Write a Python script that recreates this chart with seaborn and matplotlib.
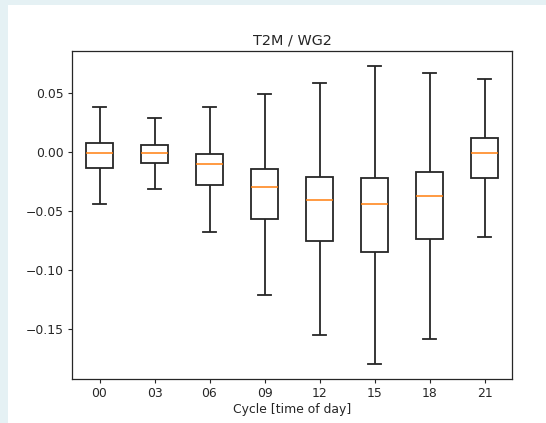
import pandas as pd
import numpy as np
import seaborn as sns
import matplotlib.pyplot as plt
from matplotlib.patches import Rectangle

# five-number summaries
cycles = ["00", "03", "06", "09", "12", "15", "18", "21"]
whisker_low = [-0.0443, -0.0316, -0.0675, -0.1205, -0.1545, -0.1793, -0.1582, -0.0721]
q1 = [-0.0135, -0.0091, -0.0279, -0.0569, -0.0749, -0.0844, -0.0738, -0.0217]
median = [-0.0012, -0.0012, -0.0105, -0.0299, -0.0403, -0.0443, -0.0372, -0.0012]
q3 = [0.0076, 0.0059, -0.0017, -0.0144, -0.0209, -0.0217, -0.0172, 0.0120]
whisker_high = [0.0382, 0.0286, 0.0382, 0.0494, 0.0584, 0.0728, 0.0666, 0.0621]

rows = []
for i, c in enumerate(cycles):
    for v in (whisker_low[i], q1[i], median[i], q3[i], whisker_high[i]):
        rows.append({"cycle": c, "value": v})
df = pd.DataFrame(rows)

plt.rcParams["font.family"] = "DejaVu Sans"
plt.rcParams["font.size"] = 8.9

W, H = 546, 423
fig = plt.figure(figsize=(W / 100, H / 100), dpi=100, facecolor="#e5f1f4")
fig.patches.append(Rectangle((8 / W, 0), 1 - 8 / W, 1 - 5 / H, transform=fig.transFigure,
                             facecolor="white", edgecolor="none", zorder=-1))

ax = fig.add_axes([72 / W, (H - 379) / H, 440 / W, 328 / H])
sns.boxplot(data=df, x="cycle", y="value", order=cycles, whis=(0, 100), width=0.5,
            color="white", linecolor="#262626", linewidth=1.3,
            medianprops={"color": "#ff7f0e", "linewidth": 1.1}, ax=ax)

ax.set_title("T2M / WG2", fontsize=10.4, pad=5, color="#262626")
ax.set_xlabel("Cycle [time of day]", labelpad=2, color="#262626")
ax.set_ylabel("")
ax.set_yticks([0.05, 0.0, -0.05, -0.10, -0.15])
ax.set_yticklabels(["0.05", "0.00", "\u22120.05", "\u22120.10", "\u22120.15"])
ax.tick_params(length=3.1, width=0.8, pad=3, colors="#262626")
for s in ax.spines.values():
    s.set_linewidth(0.9)
    s.set_color("#262626")

fig.savefig("out.png", dpi=100, facecolor=fig.get_facecolor())
